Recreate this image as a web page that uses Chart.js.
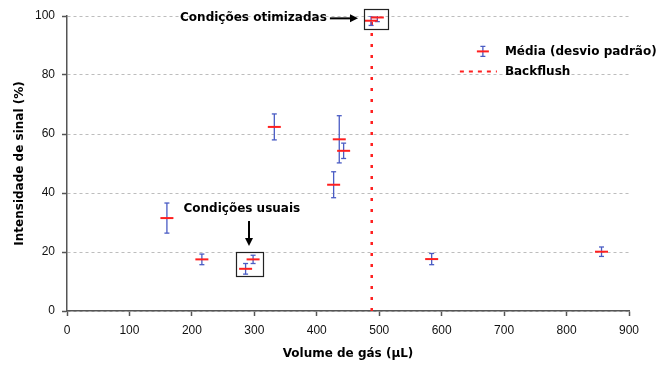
<!DOCTYPE html>
<html><head><meta charset="utf-8">
<script src="https://cdn.jsdelivr.net/npm/chart.js@4/dist/chart.umd.min.js"></script>
<style>html,body{margin:0;padding:0;background:#fff}#wrap{width:656px;height:365px}</style>
</head><body><div id="wrap"><canvas id="c" width="656" height="365"></canvas></div>
<script>
// ---- data ----
const volumes = [160, 216, 286, 298, 332, 427, 436, 443, 487, 497, 584, 856];
const means   = [31.5, 17.5, 14.3, 17.5, 62.4, 42.8, 58.2, 54.3, 98.4, 99.5, 17.6, 20.1];
const sds     = [5.1, 1.8, 1.8, 1.4, 4.4, 4.4, 8.0, 2.6, 1.6, 1.4, 1.9, 1.6];
const xTicks  = [0, 100, 200, 300, 400, 500, 600, 700, 800, 900];
const yTicks  = [0, 20, 40, 60, 80, 100];
const backflushVolume = 488;
const seriesLabels = ['Média (desvio padrão)', 'Backflush'];
const xTitle = 'Volume de gás (µL)';
const yTitle = 'Intensidade de sinal (%)';
const noteOptimized = 'Condições otimizadas';
const noteUsual = 'Condições usuais';

const RED = '#ff1f1f', BLUE = '#4a5cc4';
const FONT = '"Liberation Sans", Arial, sans-serif';
const BFONT = '"DejaVu Sans", Verdana, sans-serif';

// error-bar segments, separated by gaps
const errData = [];
volumes.forEach((v, i) => {
  errData.push({x: v, y: means[i] - sds[i]});
  errData.push({x: v, y: means[i] + sds[i]});
  errData.push({x: v, y: null});
});
const meanData = volumes.map((v, i) => ({x: v, y: means[i]}));
const bfData = [{x: backflushVolume, y: yTicks[0]}, {x: backflushVolume, y: yTicks[yTicks.length - 1]}];

function arrow(ctx, x1, y1, x2, y2) {
  const a = Math.atan2(y2 - y1, x2 - x1), h = 8, w = 4;
  const bx = x2 - h * Math.cos(a), by = y2 - h * Math.sin(a);
  ctx.beginPath(); ctx.moveTo(x1, y1); ctx.lineTo(bx, by); ctx.stroke();
  ctx.beginPath();
  ctx.moveTo(x2, y2);
  ctx.lineTo(bx + w * Math.sin(a), by - w * Math.cos(a));
  ctx.lineTo(bx - w * Math.sin(a), by + w * Math.cos(a));
  ctx.closePath(); ctx.fill();
}

const decor = {
  id: 'decor',
  afterDatasetsDraw(chart) {
    const {ctx, scales: {x, y}} = chart;
    ctx.save();
    // boxes
    ctx.strokeStyle = '#222'; ctx.lineWidth = 1.2;
    const box = (x0, x1, y0, y1) => {
      const px0 = x.getPixelForValue(x0), px1 = x.getPixelForValue(x1);
      const py0 = y.getPixelForValue(y0), py1 = y.getPixelForValue(y1);
      ctx.strokeRect(Math.round(px0) + 0.5, Math.round(py1) + 0.5, Math.round(px1 - px0), Math.round(py0 - py1));
    };
    box(271, 314, 11.8, 20.0);
    box(476, 514, 95.6, 102.4);
    // texts
    ctx.fillStyle = '#000';
    ctx.font = 'bold 12px ' + BFONT;
    ctx.textBaseline = 'middle';
    ctx.textAlign = 'right';
    ctx.fillText(noteOptimized, x.getPixelForValue(416), y.getPixelForValue(99.2));
    ctx.textAlign = 'center';
    ctx.fillText(noteUsual, x.getPixelForValue(280), y.getPixelForValue(34.5));
    // arrows
    ctx.strokeStyle = '#000'; ctx.lineWidth = 2;
    arrow(ctx, x.getPixelForValue(421), y.getPixelForValue(99.2), x.getPixelForValue(466), y.getPixelForValue(99.2));
    arrow(ctx, x.getPixelForValue(291.5), y.getPixelForValue(30.5), x.getPixelForValue(291.5), y.getPixelForValue(22.0));
    // legend
    const lx = x.getPixelForValue(666), ly1 = y.getPixelForValue(88), ly2 = y.getPixelForValue(81.2);
    ctx.strokeStyle = BLUE; ctx.lineWidth = 1.3;
    ctx.beginPath();
    ctx.moveTo(lx, ly1 - 5); ctx.lineTo(lx, ly1 + 5);
    ctx.moveTo(lx - 2.5, ly1 - 5); ctx.lineTo(lx + 2.5, ly1 - 5);
    ctx.moveTo(lx - 2.5, ly1 + 5); ctx.lineTo(lx + 2.5, ly1 + 5);
    ctx.stroke();
    ctx.strokeStyle = RED; ctx.lineWidth = 2;
    ctx.beginPath(); ctx.moveTo(lx - 6, ly1); ctx.lineTo(lx + 6, ly1); ctx.stroke();
    ctx.setLineDash([4, 5]);
    ctx.beginPath(); ctx.moveTo(lx - 23, ly2); ctx.lineTo(lx + 14, ly2); ctx.stroke();
    ctx.setLineDash([]);
    ctx.fillStyle = '#000'; ctx.textAlign = 'left';
    ctx.font = 'bold 12px ' + BFONT;
    ctx.fillText(seriesLabels[0], lx + 22, ly1);
    ctx.fillText(seriesLabels[1], lx + 22, ly2);
    ctx.restore();
  }
};

new Chart(document.getElementById('c'), {
  type: 'scatter',
  data: {
    datasets: [
      {label: seriesLabels[0], data: meanData, pointStyle: 'line', pointRadius: 6.5, pointHoverRadius: 6.5,
       borderColor: RED, backgroundColor: RED, pointBorderWidth: 2, borderWidth: 2, showLine: false},
      {label: 'erro', data: errData, showLine: true, spanGaps: false, borderColor: BLUE, borderWidth: 1.3,
       pointStyle: 'line', pointRadius: 2.5, pointBorderWidth: 1.3, pointBorderColor: BLUE, backgroundColor: BLUE},
      {label: seriesLabels[1], data: bfData, showLine: true, borderColor: RED, borderWidth: 2.5,
       borderDash: [3, 8], pointRadius: 0}
    ]
  },
  options: {
    responsive: false, animation: false, devicePixelRatio: 1,
    layout: {padding: {top: 16, right: 27, left: 0, bottom: 0}},
    plugins: {legend: {display: false}, tooltip: {enabled: false}},
    scales: {
      x: {
        type: 'linear', min: xTicks[0], max: xTicks[xTicks.length - 1],
        afterBuildTicks: s => { s.ticks = xTicks.map(v => ({value: v})); },
        afterFit: s => { s.height = 54; },
        ticks: {font: {family: FONT, size: 12}, color: '#111', padding: 7, maxRotation: 0},
        grid: {drawOnChartArea: false, drawTicks: true, tickLength: 5, tickColor: '#555', tickWidth: 1.5},
        border: {color: '#555', width: 1.5},
        title: {display: true, text: xTitle, font: {family: BFONT, size: 12, weight: 'bold'}, color: '#000', padding: {top: 4, bottom: 4}}
      },
      y: {
        min: yTicks[0], max: yTicks[yTicks.length - 1],
        afterBuildTicks: s => { s.ticks = yTicks.map(v => ({value: v})); },
        afterFit: s => { s.width = 67; },
        ticks: {font: {family: FONT, size: 12}, color: '#111', padding: 7},
        grid: {color: '#bdbdbd', lineWidth: 1, drawTicks: true, tickLength: 5, tickColor: '#555', tickWidth: 1.5, tickBorderDash: []},
        border: {color: '#555', width: 1.5, dash: [3, 3]},
        title: {display: true, text: yTitle, font: {family: BFONT, size: 12, weight: 'bold'}, color: '#000', padding: {top: 13, bottom: 4}}
      }
    }
  },
  plugins: [decor]
});
</script></body></html>
